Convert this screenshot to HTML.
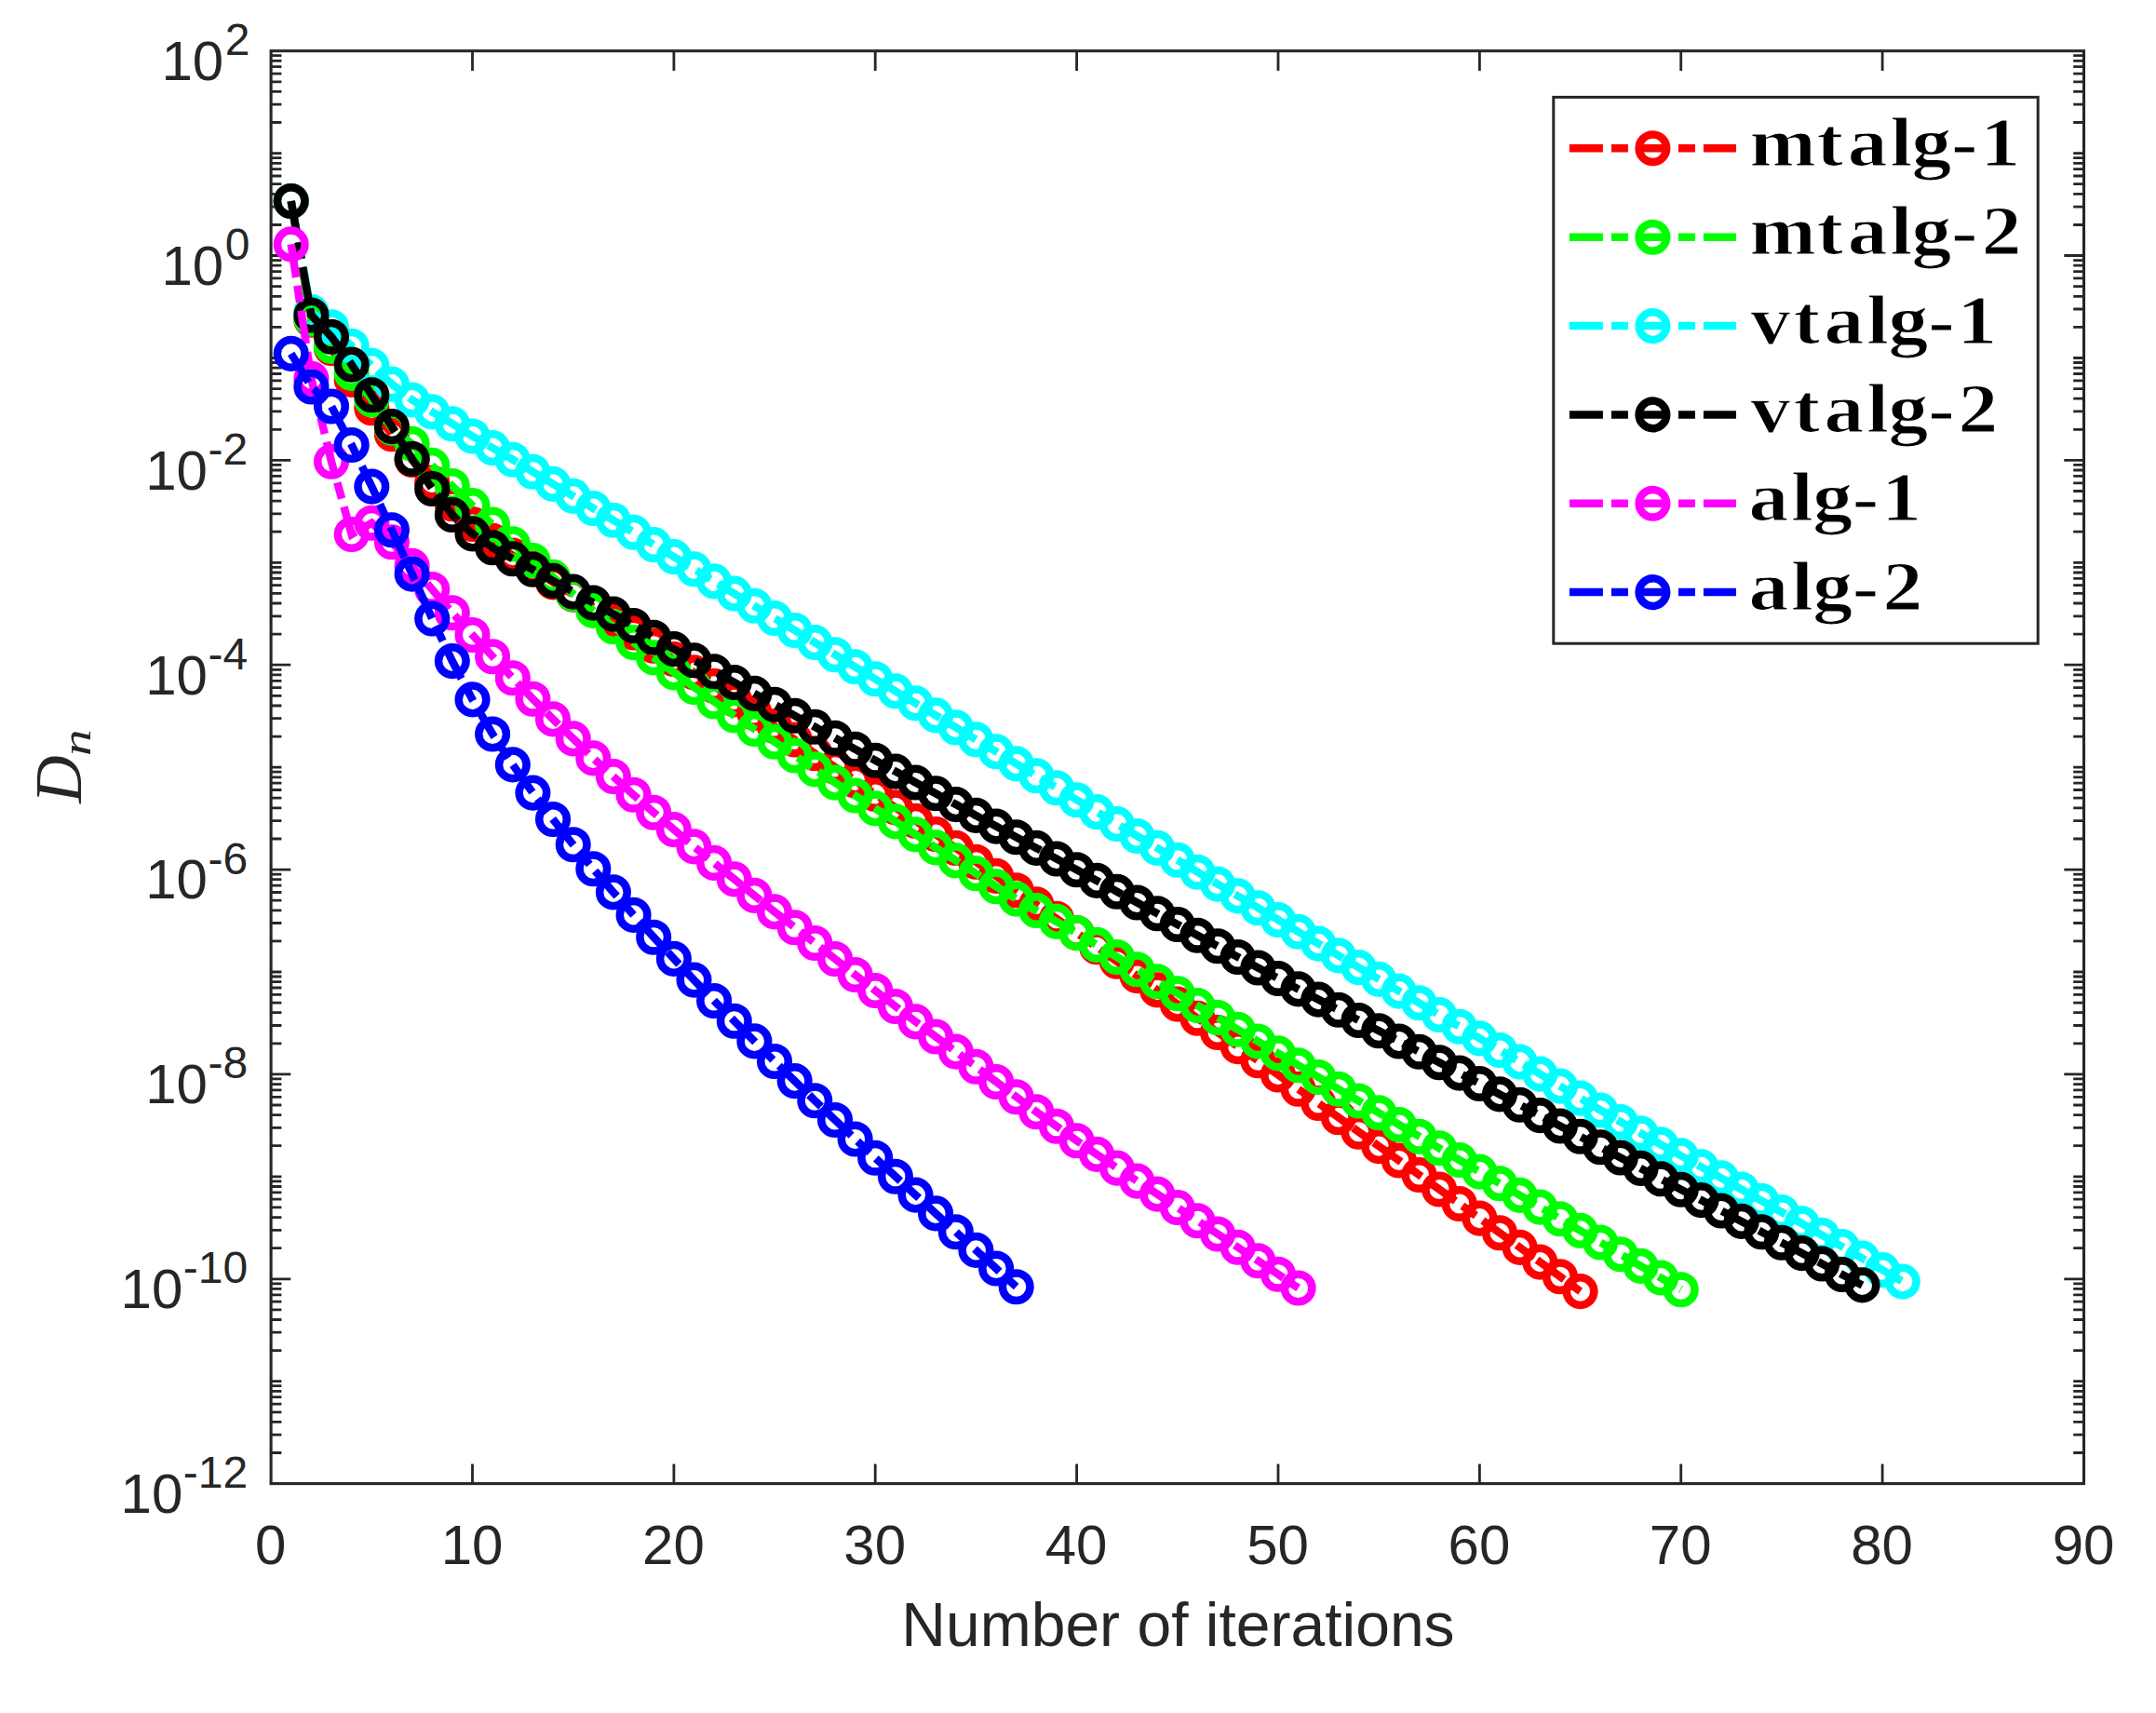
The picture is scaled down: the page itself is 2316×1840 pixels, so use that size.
<!DOCTYPE html>
<html lang="en"><head><meta charset="utf-8"><title>Convergence plot</title>
<style>html,body{margin:0;padding:0;background:#fff;}svg{display:block;}</style></head>
<body>
<svg width="2316" height="1840" viewBox="0 0 2316 1840">
<rect x="0" y="0" width="2316" height="1840" fill="#ffffff"/>
<path d="M507.5 1593.6 V1572.4 M507.5 54.7 V75.9 M723.9 1593.6 V1572.4 M723.9 54.7 V75.9 M940.2 1593.6 V1572.4 M940.2 54.7 V75.9 M1156.6 1593.6 V1572.4 M1156.6 54.7 V75.9 M1373 1593.6 V1572.4 M1373 54.7 V75.9 M1589.4 1593.6 V1572.4 M1589.4 54.7 V75.9 M1805.7 1593.6 V1572.4 M1805.7 54.7 V75.9 M2022.1 1593.6 V1572.4 M2022.1 54.7 V75.9 M291.1 1560.5 H302.4 M2238.5 1560.5 H2227.2 M291.1 1541.2 H302.4 M2238.5 1541.2 H2227.2 M291.1 1527.4 H302.4 M2238.5 1527.4 H2227.2 M291.1 1516.8 H302.4 M2238.5 1516.8 H2227.2 M291.1 1508.1 H302.4 M2238.5 1508.1 H2227.2 M291.1 1500.7 H302.4 M2238.5 1500.7 H2227.2 M291.1 1494.3 H302.4 M2238.5 1494.3 H2227.2 M291.1 1488.7 H302.4 M2238.5 1488.7 H2227.2 M291.1 1483.7 H302.4 M2238.5 1483.7 H2227.2 M291.1 1450.6 H302.4 M2238.5 1450.6 H2227.2 M291.1 1431.2 H302.4 M2238.5 1431.2 H2227.2 M291.1 1417.5 H302.4 M2238.5 1417.5 H2227.2 M291.1 1406.8 H302.4 M2238.5 1406.8 H2227.2 M291.1 1398.1 H302.4 M2238.5 1398.1 H2227.2 M291.1 1390.8 H302.4 M2238.5 1390.8 H2227.2 M291.1 1384.4 H302.4 M2238.5 1384.4 H2227.2 M291.1 1378.8 H302.4 M2238.5 1378.8 H2227.2 M291.1 1373.8 H312.3 M2238.5 1373.8 H2217.3 M291.1 1340.7 H302.4 M2238.5 1340.7 H2227.2 M291.1 1321.3 H302.4 M2238.5 1321.3 H2227.2 M291.1 1307.6 H302.4 M2238.5 1307.6 H2227.2 M291.1 1296.9 H302.4 M2238.5 1296.9 H2227.2 M291.1 1288.2 H302.4 M2238.5 1288.2 H2227.2 M291.1 1280.9 H302.4 M2238.5 1280.9 H2227.2 M291.1 1274.5 H302.4 M2238.5 1274.5 H2227.2 M291.1 1268.9 H302.4 M2238.5 1268.9 H2227.2 M291.1 1263.8 H302.4 M2238.5 1263.8 H2227.2 M291.1 1230.7 H302.4 M2238.5 1230.7 H2227.2 M291.1 1211.4 H302.4 M2238.5 1211.4 H2227.2 M291.1 1197.7 H302.4 M2238.5 1197.7 H2227.2 M291.1 1187 H302.4 M2238.5 1187 H2227.2 M291.1 1178.3 H302.4 M2238.5 1178.3 H2227.2 M291.1 1170.9 H302.4 M2238.5 1170.9 H2227.2 M291.1 1164.6 H302.4 M2238.5 1164.6 H2227.2 M291.1 1158.9 H302.4 M2238.5 1158.9 H2227.2 M291.1 1153.9 H312.3 M2238.5 1153.9 H2217.3 M291.1 1120.8 H302.4 M2238.5 1120.8 H2227.2 M291.1 1101.5 H302.4 M2238.5 1101.5 H2227.2 M291.1 1087.7 H302.4 M2238.5 1087.7 H2227.2 M291.1 1077.1 H302.4 M2238.5 1077.1 H2227.2 M291.1 1068.4 H302.4 M2238.5 1068.4 H2227.2 M291.1 1061 H302.4 M2238.5 1061 H2227.2 M291.1 1054.6 H302.4 M2238.5 1054.6 H2227.2 M291.1 1049 H302.4 M2238.5 1049 H2227.2 M291.1 1044 H302.4 M2238.5 1044 H2227.2 M291.1 1010.9 H302.4 M2238.5 1010.9 H2227.2 M291.1 991.5 H302.4 M2238.5 991.5 H2227.2 M291.1 977.8 H302.4 M2238.5 977.8 H2227.2 M291.1 967.2 H302.4 M2238.5 967.2 H2227.2 M291.1 958.5 H302.4 M2238.5 958.5 H2227.2 M291.1 951.1 H302.4 M2238.5 951.1 H2227.2 M291.1 944.7 H302.4 M2238.5 944.7 H2227.2 M291.1 939.1 H302.4 M2238.5 939.1 H2227.2 M291.1 934.1 H312.3 M2238.5 934.1 H2217.3 M291.1 901 H302.4 M2238.5 901 H2227.2 M291.1 881.6 H302.4 M2238.5 881.6 H2227.2 M291.1 867.9 H302.4 M2238.5 867.9 H2227.2 M291.1 857.2 H302.4 M2238.5 857.2 H2227.2 M291.1 848.5 H302.4 M2238.5 848.5 H2227.2 M291.1 841.2 H302.4 M2238.5 841.2 H2227.2 M291.1 834.8 H302.4 M2238.5 834.8 H2227.2 M291.1 829.2 H302.4 M2238.5 829.2 H2227.2 M291.1 824.1 H302.4 M2238.5 824.1 H2227.2 M291.1 791.1 H302.4 M2238.5 791.1 H2227.2 M291.1 771.7 H302.4 M2238.5 771.7 H2227.2 M291.1 758 H302.4 M2238.5 758 H2227.2 M291.1 747.3 H302.4 M2238.5 747.3 H2227.2 M291.1 738.6 H302.4 M2238.5 738.6 H2227.2 M291.1 731.3 H302.4 M2238.5 731.3 H2227.2 M291.1 724.9 H302.4 M2238.5 724.9 H2227.2 M291.1 719.3 H302.4 M2238.5 719.3 H2227.2 M291.1 714.2 H312.3 M2238.5 714.2 H2217.3 M291.1 681.1 H302.4 M2238.5 681.1 H2227.2 M291.1 661.8 H302.4 M2238.5 661.8 H2227.2 M291.1 648 H302.4 M2238.5 648 H2227.2 M291.1 637.4 H302.4 M2238.5 637.4 H2227.2 M291.1 628.7 H302.4 M2238.5 628.7 H2227.2 M291.1 621.3 H302.4 M2238.5 621.3 H2227.2 M291.1 615 H302.4 M2238.5 615 H2227.2 M291.1 609.3 H302.4 M2238.5 609.3 H2227.2 M291.1 604.3 H302.4 M2238.5 604.3 H2227.2 M291.1 571.2 H302.4 M2238.5 571.2 H2227.2 M291.1 551.9 H302.4 M2238.5 551.9 H2227.2 M291.1 538.1 H302.4 M2238.5 538.1 H2227.2 M291.1 527.5 H302.4 M2238.5 527.5 H2227.2 M291.1 518.8 H302.4 M2238.5 518.8 H2227.2 M291.1 511.4 H302.4 M2238.5 511.4 H2227.2 M291.1 505 H302.4 M2238.5 505 H2227.2 M291.1 499.4 H302.4 M2238.5 499.4 H2227.2 M291.1 494.4 H312.3 M2238.5 494.4 H2217.3 M291.1 461.3 H302.4 M2238.5 461.3 H2227.2 M291.1 441.9 H302.4 M2238.5 441.9 H2227.2 M291.1 428.2 H302.4 M2238.5 428.2 H2227.2 M291.1 417.6 H302.4 M2238.5 417.6 H2227.2 M291.1 408.9 H302.4 M2238.5 408.9 H2227.2 M291.1 401.5 H302.4 M2238.5 401.5 H2227.2 M291.1 395.1 H302.4 M2238.5 395.1 H2227.2 M291.1 389.5 H302.4 M2238.5 389.5 H2227.2 M291.1 384.5 H302.4 M2238.5 384.5 H2227.2 M291.1 351.4 H302.4 M2238.5 351.4 H2227.2 M291.1 332 H302.4 M2238.5 332 H2227.2 M291.1 318.3 H302.4 M2238.5 318.3 H2227.2 M291.1 307.6 H302.4 M2238.5 307.6 H2227.2 M291.1 298.9 H302.4 M2238.5 298.9 H2227.2 M291.1 291.6 H302.4 M2238.5 291.6 H2227.2 M291.1 285.2 H302.4 M2238.5 285.2 H2227.2 M291.1 279.6 H302.4 M2238.5 279.6 H2227.2 M291.1 274.5 H312.3 M2238.5 274.5 H2217.3 M291.1 241.5 H302.4 M2238.5 241.5 H2227.2 M291.1 222.1 H302.4 M2238.5 222.1 H2227.2 M291.1 208.4 H302.4 M2238.5 208.4 H2227.2 M291.1 197.7 H302.4 M2238.5 197.7 H2227.2 M291.1 189 H302.4 M2238.5 189 H2227.2 M291.1 181.6 H302.4 M2238.5 181.6 H2227.2 M291.1 175.3 H302.4 M2238.5 175.3 H2227.2 M291.1 169.7 H302.4 M2238.5 169.7 H2227.2 M291.1 164.6 H302.4 M2238.5 164.6 H2227.2 M291.1 131.5 H302.4 M2238.5 131.5 H2227.2 M291.1 112.2 H302.4 M2238.5 112.2 H2227.2 M291.1 98.4 H302.4 M2238.5 98.4 H2227.2 M291.1 87.8 H302.4 M2238.5 87.8 H2227.2 M291.1 79.1 H302.4 M2238.5 79.1 H2227.2 M291.1 71.7 H302.4 M2238.5 71.7 H2227.2 M291.1 65.4 H302.4 M2238.5 65.4 H2227.2 M291.1 59.7 H302.4 M2238.5 59.7 H2227.2" stroke="#262626" stroke-width="2.8" fill="none"/>
<rect x="291.1" y="54.7" width="1947.4" height="1538.9" fill="none" stroke="#262626" stroke-width="3.1"/>
<g font-family="'Liberation Sans', Arial, Helvetica, sans-serif" fill="#262626">
<text x="290.6" y="1679.9" font-size="60" text-anchor="middle">0</text>
<text x="507" y="1679.9" font-size="60" text-anchor="middle">10</text>
<text x="723.4" y="1679.9" font-size="60" text-anchor="middle">20</text>
<text x="939.7" y="1679.9" font-size="60" text-anchor="middle">30</text>
<text x="1156.1" y="1679.9" font-size="60" text-anchor="middle">40</text>
<text x="1372.5" y="1679.9" font-size="60" text-anchor="middle">50</text>
<text x="1588.9" y="1679.9" font-size="60" text-anchor="middle">60</text>
<text x="1805.2" y="1679.9" font-size="60" text-anchor="middle">70</text>
<text x="2021.6" y="1679.9" font-size="60" text-anchor="middle">80</text>
<text x="2238" y="1679.9" font-size="60" text-anchor="middle">90</text>
<text x="266.2" y="1624.9" font-size="60" text-anchor="end">10<tspan dy="-26.9" dx="0.5" font-size="48">-12</tspan></text>
<text x="266.2" y="1405.1" font-size="60" text-anchor="end">10<tspan dy="-26.9" dx="0.5" font-size="48">-10</tspan></text>
<text x="266.2" y="1185.2" font-size="60" text-anchor="end">10<tspan dy="-26.9" dx="0.5" font-size="48">-8</tspan></text>
<text x="266.2" y="965.4" font-size="60" text-anchor="end">10<tspan dy="-26.9" dx="0.5" font-size="48">-6</tspan></text>
<text x="266.2" y="745.5" font-size="60" text-anchor="end">10<tspan dy="-26.9" dx="0.5" font-size="48">-4</tspan></text>
<text x="266.2" y="525.7" font-size="60" text-anchor="end">10<tspan dy="-26.9" dx="0.5" font-size="48">-2</tspan></text>
<text x="268.4" y="305.8" font-size="60" text-anchor="end">10<tspan dy="-26.9" dx="1.5" font-size="48">0</tspan></text>
<text x="268.4" y="86" font-size="60" text-anchor="end">10<tspan dy="-26.9" dx="1.5" font-size="48">2</tspan></text>
<text x="1265.5" y="1767.5" font-size="66" text-anchor="middle">Number of iterations</text>
</g>
<g transform="translate(86.9 862.7) rotate(-90)" font-family="'Liberation Serif', 'Times New Roman', serif" font-style="italic" fill="#262626"><text x="0" y="0" font-size="71">D</text><text transform="translate(50.6 10.4) scale(1.3 1)" x="0" y="0" font-size="44">n</text></g>
<g stroke="#ff0000" stroke-width="8.5" fill="none">
<polyline points="312.7,216 334.4,343.7 356,374.1 377.7,407.9 399.3,438.3 420.9,466.3 442.6,494 464.2,518.5 485.8,541.3 507.5,563 529.1,580.9 550.8,596.6 572.4,610.8 594,625.4 615.7,638.6 637.3,651.8 658.9,664.9 680.6,679.5 702.2,693.8 723.9,708 745.5,722.4 767.1,736.9 788.8,751.4 810.4,765.7 832,780 853.7,794.5 875.3,809.2 897,823.9 918.6,838.5 940.2,853 961.9,867.4 983.5,881.7 1005.1,896.1 1026.8,910.9 1048.4,925.8 1070.1,940.9 1091.7,956.2 1113.3,971.4 1135,986.7 1156.6,1002 1178.2,1017.3 1199.9,1032.7 1221.5,1048.1 1243.2,1063.4 1264.8,1078.6 1286.4,1093.8 1308.1,1109 1329.7,1124.1 1351.4,1139.3 1373,1154.5 1394.6,1169.8 1416.3,1185 1437.9,1200.3 1459.5,1215.7 1481.2,1231.1 1502.8,1246.5 1524.5,1262 1546.1,1277.5 1567.7,1293 1589.4,1308.6 1611,1324.2 1632.6,1339.9 1654.3,1355.6 1675.9,1371.3 1697.6,1387.1" stroke-dasharray="36 9 18 9"/>
<circle cx="312.7" cy="216" r="14.8"/>
<circle cx="334.4" cy="343.7" r="14.8"/>
<circle cx="356" cy="374.1" r="14.8"/>
<circle cx="377.7" cy="407.9" r="14.8"/>
<circle cx="399.3" cy="438.3" r="14.8"/>
<circle cx="420.9" cy="466.3" r="14.8"/>
<circle cx="442.6" cy="494" r="14.8"/>
<circle cx="464.2" cy="518.5" r="14.8"/>
<circle cx="485.8" cy="541.3" r="14.8"/>
<circle cx="507.5" cy="563" r="14.8"/>
<circle cx="529.1" cy="580.9" r="14.8"/>
<circle cx="550.8" cy="596.6" r="14.8"/>
<circle cx="572.4" cy="610.8" r="14.8"/>
<circle cx="594" cy="625.4" r="14.8"/>
<circle cx="615.7" cy="638.6" r="14.8"/>
<circle cx="637.3" cy="651.8" r="14.8"/>
<circle cx="658.9" cy="664.9" r="14.8"/>
<circle cx="680.6" cy="679.5" r="14.8"/>
<circle cx="702.2" cy="693.8" r="14.8"/>
<circle cx="723.9" cy="708" r="14.8"/>
<circle cx="745.5" cy="722.4" r="14.8"/>
<circle cx="767.1" cy="736.9" r="14.8"/>
<circle cx="788.8" cy="751.4" r="14.8"/>
<circle cx="810.4" cy="765.7" r="14.8"/>
<circle cx="832" cy="780" r="14.8"/>
<circle cx="853.7" cy="794.5" r="14.8"/>
<circle cx="875.3" cy="809.2" r="14.8"/>
<circle cx="897" cy="823.9" r="14.8"/>
<circle cx="918.6" cy="838.5" r="14.8"/>
<circle cx="940.2" cy="853" r="14.8"/>
<circle cx="961.9" cy="867.4" r="14.8"/>
<circle cx="983.5" cy="881.7" r="14.8"/>
<circle cx="1005.1" cy="896.1" r="14.8"/>
<circle cx="1026.8" cy="910.9" r="14.8"/>
<circle cx="1048.4" cy="925.8" r="14.8"/>
<circle cx="1070.1" cy="940.9" r="14.8"/>
<circle cx="1091.7" cy="956.2" r="14.8"/>
<circle cx="1113.3" cy="971.4" r="14.8"/>
<circle cx="1135" cy="986.7" r="14.8"/>
<circle cx="1156.6" cy="1002" r="14.8"/>
<circle cx="1178.2" cy="1017.3" r="14.8"/>
<circle cx="1199.9" cy="1032.7" r="14.8"/>
<circle cx="1221.5" cy="1048.1" r="14.8"/>
<circle cx="1243.2" cy="1063.4" r="14.8"/>
<circle cx="1264.8" cy="1078.6" r="14.8"/>
<circle cx="1286.4" cy="1093.8" r="14.8"/>
<circle cx="1308.1" cy="1109" r="14.8"/>
<circle cx="1329.7" cy="1124.1" r="14.8"/>
<circle cx="1351.4" cy="1139.3" r="14.8"/>
<circle cx="1373" cy="1154.5" r="14.8"/>
<circle cx="1394.6" cy="1169.8" r="14.8"/>
<circle cx="1416.3" cy="1185" r="14.8"/>
<circle cx="1437.9" cy="1200.3" r="14.8"/>
<circle cx="1459.5" cy="1215.7" r="14.8"/>
<circle cx="1481.2" cy="1231.1" r="14.8"/>
<circle cx="1502.8" cy="1246.5" r="14.8"/>
<circle cx="1524.5" cy="1262" r="14.8"/>
<circle cx="1546.1" cy="1277.5" r="14.8"/>
<circle cx="1567.7" cy="1293" r="14.8"/>
<circle cx="1589.4" cy="1308.6" r="14.8"/>
<circle cx="1611" cy="1324.2" r="14.8"/>
<circle cx="1632.6" cy="1339.9" r="14.8"/>
<circle cx="1654.3" cy="1355.6" r="14.8"/>
<circle cx="1675.9" cy="1371.3" r="14.8"/>
<circle cx="1697.6" cy="1387.1" r="14.8"/>
</g>
<g stroke="#00ff00" stroke-width="8.5" fill="none">
<polyline points="312.7,216 334.4,342.5 356,371.7 377.7,400.9 399.3,429.2 420.9,459.6 442.6,476.8 464.2,499.9 485.8,522 507.5,543.1 529.1,563.5 550.8,584.3 572.4,602 594,619.9 615.7,638 637.3,655.9 658.9,673.3 680.6,690.1 702.2,706.4 723.9,722.4 745.5,738.1 767.1,753.5 788.8,768.5 810.4,783 832,796.7 853.7,811.5 875.3,826.4 897,840.6 918.6,854.5 940.2,868.4 961.9,882.4 983.5,896.4 1005.1,910.4 1026.8,924.4 1048.4,938.3 1070.1,952.2 1091.7,965.6 1113.3,978 1135,989.9 1156.6,1002.1 1178.2,1014.9 1199.9,1028 1221.5,1041.2 1243.2,1054.3 1264.8,1067.2 1286.4,1080.1 1308.1,1093 1329.7,1105.8 1351.4,1118.6 1373,1131.4 1394.6,1144.2 1416.3,1157 1437.9,1169.8 1459.5,1182.5 1481.2,1195.3 1502.8,1208 1524.5,1220.7 1546.1,1233.3 1567.7,1246 1589.4,1258.6 1611,1271.3 1632.6,1283.9 1654.3,1296.6 1675.9,1309.2 1697.6,1321.9 1719.2,1334.5 1740.8,1347.2 1762.5,1359.9 1784.1,1372.5 1805.7,1385.2" stroke-dasharray="36 9 18 9"/>
<circle cx="312.7" cy="216" r="14.8"/>
<circle cx="334.4" cy="342.5" r="14.8"/>
<circle cx="356" cy="371.7" r="14.8"/>
<circle cx="377.7" cy="400.9" r="14.8"/>
<circle cx="399.3" cy="429.2" r="14.8"/>
<circle cx="420.9" cy="459.6" r="14.8"/>
<circle cx="442.6" cy="476.8" r="14.8"/>
<circle cx="464.2" cy="499.9" r="14.8"/>
<circle cx="485.8" cy="522" r="14.8"/>
<circle cx="507.5" cy="543.1" r="14.8"/>
<circle cx="529.1" cy="563.5" r="14.8"/>
<circle cx="550.8" cy="584.3" r="14.8"/>
<circle cx="572.4" cy="602" r="14.8"/>
<circle cx="594" cy="619.9" r="14.8"/>
<circle cx="615.7" cy="638" r="14.8"/>
<circle cx="637.3" cy="655.9" r="14.8"/>
<circle cx="658.9" cy="673.3" r="14.8"/>
<circle cx="680.6" cy="690.1" r="14.8"/>
<circle cx="702.2" cy="706.4" r="14.8"/>
<circle cx="723.9" cy="722.4" r="14.8"/>
<circle cx="745.5" cy="738.1" r="14.8"/>
<circle cx="767.1" cy="753.5" r="14.8"/>
<circle cx="788.8" cy="768.5" r="14.8"/>
<circle cx="810.4" cy="783" r="14.8"/>
<circle cx="832" cy="796.7" r="14.8"/>
<circle cx="853.7" cy="811.5" r="14.8"/>
<circle cx="875.3" cy="826.4" r="14.8"/>
<circle cx="897" cy="840.6" r="14.8"/>
<circle cx="918.6" cy="854.5" r="14.8"/>
<circle cx="940.2" cy="868.4" r="14.8"/>
<circle cx="961.9" cy="882.4" r="14.8"/>
<circle cx="983.5" cy="896.4" r="14.8"/>
<circle cx="1005.1" cy="910.4" r="14.8"/>
<circle cx="1026.8" cy="924.4" r="14.8"/>
<circle cx="1048.4" cy="938.3" r="14.8"/>
<circle cx="1070.1" cy="952.2" r="14.8"/>
<circle cx="1091.7" cy="965.6" r="14.8"/>
<circle cx="1113.3" cy="978" r="14.8"/>
<circle cx="1135" cy="989.9" r="14.8"/>
<circle cx="1156.6" cy="1002.1" r="14.8"/>
<circle cx="1178.2" cy="1014.9" r="14.8"/>
<circle cx="1199.9" cy="1028" r="14.8"/>
<circle cx="1221.5" cy="1041.2" r="14.8"/>
<circle cx="1243.2" cy="1054.3" r="14.8"/>
<circle cx="1264.8" cy="1067.2" r="14.8"/>
<circle cx="1286.4" cy="1080.1" r="14.8"/>
<circle cx="1308.1" cy="1093" r="14.8"/>
<circle cx="1329.7" cy="1105.8" r="14.8"/>
<circle cx="1351.4" cy="1118.6" r="14.8"/>
<circle cx="1373" cy="1131.4" r="14.8"/>
<circle cx="1394.6" cy="1144.2" r="14.8"/>
<circle cx="1416.3" cy="1157" r="14.8"/>
<circle cx="1437.9" cy="1169.8" r="14.8"/>
<circle cx="1459.5" cy="1182.5" r="14.8"/>
<circle cx="1481.2" cy="1195.3" r="14.8"/>
<circle cx="1502.8" cy="1208" r="14.8"/>
<circle cx="1524.5" cy="1220.7" r="14.8"/>
<circle cx="1546.1" cy="1233.3" r="14.8"/>
<circle cx="1567.7" cy="1246" r="14.8"/>
<circle cx="1589.4" cy="1258.6" r="14.8"/>
<circle cx="1611" cy="1271.3" r="14.8"/>
<circle cx="1632.6" cy="1283.9" r="14.8"/>
<circle cx="1654.3" cy="1296.6" r="14.8"/>
<circle cx="1675.9" cy="1309.2" r="14.8"/>
<circle cx="1697.6" cy="1321.9" r="14.8"/>
<circle cx="1719.2" cy="1334.5" r="14.8"/>
<circle cx="1740.8" cy="1347.2" r="14.8"/>
<circle cx="1762.5" cy="1359.9" r="14.8"/>
<circle cx="1784.1" cy="1372.5" r="14.8"/>
<circle cx="1805.7" cy="1385.2" r="14.8"/>
</g>
<g stroke="#00ffff" stroke-width="8.5" fill="none">
<polyline points="312.7,216 334.4,335 356,351.3 377.7,371.7 399.3,392.8 420.9,412.6 442.6,429.5 464.2,442.4 485.8,455.2 507.5,468.5 529.1,481.1 550.8,493.7 572.4,506.8 594,519.9 615.7,532.9 637.3,546 658.9,558.8 680.6,571.8 702.2,585 723.9,598.1 745.5,611.2 767.1,624.4 788.8,637.6 810.4,650.8 832,664 853.7,677 875.3,690.1 897,703.2 918.6,716.3 940.2,729.3 961.9,742.4 983.5,755.4 1005.1,768.4 1026.8,781.4 1048.4,794.4 1070.1,807.4 1091.7,820.4 1113.3,833.3 1135,846.2 1156.6,859.2 1178.2,872.1 1199.9,885.1 1221.5,898 1243.2,910.9 1264.8,923.7 1286.4,936.7 1308.1,949.6 1329.7,962.4 1351.4,975.2 1373,988 1394.6,1000.8 1416.3,1013.6 1437.9,1026.4 1459.5,1039.1 1481.2,1051.9 1502.8,1064.6 1524.5,1077.3 1546.1,1090 1567.7,1102.7 1589.4,1115.4 1611,1128 1632.6,1140.6 1654.3,1153.6 1675.9,1166.6 1697.6,1179.6 1719.2,1192.5 1740.8,1205 1762.5,1217.3 1784.1,1229.4 1805.7,1241.4 1827.4,1253.4 1849,1265.4 1870.7,1277.5 1892.3,1289.7 1913.9,1302 1935.6,1314.3 1957.2,1326.7 1978.8,1339.1 2000.5,1351.6 2022.1,1364.1 2043.8,1376.6" stroke-dasharray="36 9 18 9"/>
<circle cx="312.7" cy="216" r="14.8"/>
<circle cx="334.4" cy="335" r="14.8"/>
<circle cx="356" cy="351.3" r="14.8"/>
<circle cx="377.7" cy="371.7" r="14.8"/>
<circle cx="399.3" cy="392.8" r="14.8"/>
<circle cx="420.9" cy="412.6" r="14.8"/>
<circle cx="442.6" cy="429.5" r="14.8"/>
<circle cx="464.2" cy="442.4" r="14.8"/>
<circle cx="485.8" cy="455.2" r="14.8"/>
<circle cx="507.5" cy="468.5" r="14.8"/>
<circle cx="529.1" cy="481.1" r="14.8"/>
<circle cx="550.8" cy="493.7" r="14.8"/>
<circle cx="572.4" cy="506.8" r="14.8"/>
<circle cx="594" cy="519.9" r="14.8"/>
<circle cx="615.7" cy="532.9" r="14.8"/>
<circle cx="637.3" cy="546" r="14.8"/>
<circle cx="658.9" cy="558.8" r="14.8"/>
<circle cx="680.6" cy="571.8" r="14.8"/>
<circle cx="702.2" cy="585" r="14.8"/>
<circle cx="723.9" cy="598.1" r="14.8"/>
<circle cx="745.5" cy="611.2" r="14.8"/>
<circle cx="767.1" cy="624.4" r="14.8"/>
<circle cx="788.8" cy="637.6" r="14.8"/>
<circle cx="810.4" cy="650.8" r="14.8"/>
<circle cx="832" cy="664" r="14.8"/>
<circle cx="853.7" cy="677" r="14.8"/>
<circle cx="875.3" cy="690.1" r="14.8"/>
<circle cx="897" cy="703.2" r="14.8"/>
<circle cx="918.6" cy="716.3" r="14.8"/>
<circle cx="940.2" cy="729.3" r="14.8"/>
<circle cx="961.9" cy="742.4" r="14.8"/>
<circle cx="983.5" cy="755.4" r="14.8"/>
<circle cx="1005.1" cy="768.4" r="14.8"/>
<circle cx="1026.8" cy="781.4" r="14.8"/>
<circle cx="1048.4" cy="794.4" r="14.8"/>
<circle cx="1070.1" cy="807.4" r="14.8"/>
<circle cx="1091.7" cy="820.4" r="14.8"/>
<circle cx="1113.3" cy="833.3" r="14.8"/>
<circle cx="1135" cy="846.2" r="14.8"/>
<circle cx="1156.6" cy="859.2" r="14.8"/>
<circle cx="1178.2" cy="872.1" r="14.8"/>
<circle cx="1199.9" cy="885.1" r="14.8"/>
<circle cx="1221.5" cy="898" r="14.8"/>
<circle cx="1243.2" cy="910.9" r="14.8"/>
<circle cx="1264.8" cy="923.7" r="14.8"/>
<circle cx="1286.4" cy="936.7" r="14.8"/>
<circle cx="1308.1" cy="949.6" r="14.8"/>
<circle cx="1329.7" cy="962.4" r="14.8"/>
<circle cx="1351.4" cy="975.2" r="14.8"/>
<circle cx="1373" cy="988" r="14.8"/>
<circle cx="1394.6" cy="1000.8" r="14.8"/>
<circle cx="1416.3" cy="1013.6" r="14.8"/>
<circle cx="1437.9" cy="1026.4" r="14.8"/>
<circle cx="1459.5" cy="1039.1" r="14.8"/>
<circle cx="1481.2" cy="1051.9" r="14.8"/>
<circle cx="1502.8" cy="1064.6" r="14.8"/>
<circle cx="1524.5" cy="1077.3" r="14.8"/>
<circle cx="1546.1" cy="1090" r="14.8"/>
<circle cx="1567.7" cy="1102.7" r="14.8"/>
<circle cx="1589.4" cy="1115.4" r="14.8"/>
<circle cx="1611" cy="1128" r="14.8"/>
<circle cx="1632.6" cy="1140.6" r="14.8"/>
<circle cx="1654.3" cy="1153.6" r="14.8"/>
<circle cx="1675.9" cy="1166.6" r="14.8"/>
<circle cx="1697.6" cy="1179.6" r="14.8"/>
<circle cx="1719.2" cy="1192.5" r="14.8"/>
<circle cx="1740.8" cy="1205" r="14.8"/>
<circle cx="1762.5" cy="1217.3" r="14.8"/>
<circle cx="1784.1" cy="1229.4" r="14.8"/>
<circle cx="1805.7" cy="1241.4" r="14.8"/>
<circle cx="1827.4" cy="1253.4" r="14.8"/>
<circle cx="1849" cy="1265.4" r="14.8"/>
<circle cx="1870.7" cy="1277.5" r="14.8"/>
<circle cx="1892.3" cy="1289.7" r="14.8"/>
<circle cx="1913.9" cy="1302" r="14.8"/>
<circle cx="1935.6" cy="1314.3" r="14.8"/>
<circle cx="1957.2" cy="1326.7" r="14.8"/>
<circle cx="1978.8" cy="1339.1" r="14.8"/>
<circle cx="2000.5" cy="1351.6" r="14.8"/>
<circle cx="2022.1" cy="1364.1" r="14.8"/>
<circle cx="2043.8" cy="1376.6" r="14.8"/>
</g>
<g stroke="#000000" stroke-width="8.5" fill="none">
<polyline points="312.7,216 334.4,338.5 356,361.8 377.7,391.6 399.3,424.3 420.9,458.1 442.6,492.8 464.2,525 485.8,553 507.5,573.4 529.1,588.3 550.8,600.2 572.4,611.8 594,623.9 615.7,635.6 637.3,647.5 658.9,659.6 680.6,672 702.2,684.7 723.9,697.1 745.5,709.2 767.1,721.2 788.8,733 810.4,744.9 832,756.8 853.7,768.8 875.3,780.8 897,792.8 918.6,804.8 940.2,816.7 961.9,828.6 983.5,840.5 1005.1,852.3 1026.8,864.1 1048.4,875.9 1070.1,887.6 1091.7,899.3 1113.3,910.9 1135,922.5 1156.6,934.2 1178.2,945.9 1199.9,957.7 1221.5,969.5 1243.2,981.3 1264.8,993 1286.4,1004.7 1308.1,1016.3 1329.7,1028 1351.4,1039.5 1373,1051 1394.6,1062.4 1416.3,1073.6 1437.9,1084.8 1459.5,1096 1481.2,1107.2 1502.8,1118.5 1524.5,1129.8 1546.1,1141.2 1567.7,1152.6 1589.4,1164 1611,1175.4 1632.6,1186.7 1654.3,1198.1 1675.9,1209.5 1697.6,1220.8 1719.2,1232.2 1740.8,1243.5 1762.5,1254.9 1784.1,1266.3 1805.7,1277.7 1827.4,1289.1 1849,1300.5 1870.7,1311.9 1892.3,1323.3 1913.9,1334.7 1935.6,1346.1 1957.2,1357.5 1978.8,1369 2000.5,1380.4" stroke-dasharray="36 9 18 9"/>
<circle cx="312.7" cy="216" r="14.8"/>
<circle cx="334.4" cy="338.5" r="14.8"/>
<circle cx="356" cy="361.8" r="14.8"/>
<circle cx="377.7" cy="391.6" r="14.8"/>
<circle cx="399.3" cy="424.3" r="14.8"/>
<circle cx="420.9" cy="458.1" r="14.8"/>
<circle cx="442.6" cy="492.8" r="14.8"/>
<circle cx="464.2" cy="525" r="14.8"/>
<circle cx="485.8" cy="553" r="14.8"/>
<circle cx="507.5" cy="573.4" r="14.8"/>
<circle cx="529.1" cy="588.3" r="14.8"/>
<circle cx="550.8" cy="600.2" r="14.8"/>
<circle cx="572.4" cy="611.8" r="14.8"/>
<circle cx="594" cy="623.9" r="14.8"/>
<circle cx="615.7" cy="635.6" r="14.8"/>
<circle cx="637.3" cy="647.5" r="14.8"/>
<circle cx="658.9" cy="659.6" r="14.8"/>
<circle cx="680.6" cy="672" r="14.8"/>
<circle cx="702.2" cy="684.7" r="14.8"/>
<circle cx="723.9" cy="697.1" r="14.8"/>
<circle cx="745.5" cy="709.2" r="14.8"/>
<circle cx="767.1" cy="721.2" r="14.8"/>
<circle cx="788.8" cy="733" r="14.8"/>
<circle cx="810.4" cy="744.9" r="14.8"/>
<circle cx="832" cy="756.8" r="14.8"/>
<circle cx="853.7" cy="768.8" r="14.8"/>
<circle cx="875.3" cy="780.8" r="14.8"/>
<circle cx="897" cy="792.8" r="14.8"/>
<circle cx="918.6" cy="804.8" r="14.8"/>
<circle cx="940.2" cy="816.7" r="14.8"/>
<circle cx="961.9" cy="828.6" r="14.8"/>
<circle cx="983.5" cy="840.5" r="14.8"/>
<circle cx="1005.1" cy="852.3" r="14.8"/>
<circle cx="1026.8" cy="864.1" r="14.8"/>
<circle cx="1048.4" cy="875.9" r="14.8"/>
<circle cx="1070.1" cy="887.6" r="14.8"/>
<circle cx="1091.7" cy="899.3" r="14.8"/>
<circle cx="1113.3" cy="910.9" r="14.8"/>
<circle cx="1135" cy="922.5" r="14.8"/>
<circle cx="1156.6" cy="934.2" r="14.8"/>
<circle cx="1178.2" cy="945.9" r="14.8"/>
<circle cx="1199.9" cy="957.7" r="14.8"/>
<circle cx="1221.5" cy="969.5" r="14.8"/>
<circle cx="1243.2" cy="981.3" r="14.8"/>
<circle cx="1264.8" cy="993" r="14.8"/>
<circle cx="1286.4" cy="1004.7" r="14.8"/>
<circle cx="1308.1" cy="1016.3" r="14.8"/>
<circle cx="1329.7" cy="1028" r="14.8"/>
<circle cx="1351.4" cy="1039.5" r="14.8"/>
<circle cx="1373" cy="1051" r="14.8"/>
<circle cx="1394.6" cy="1062.4" r="14.8"/>
<circle cx="1416.3" cy="1073.6" r="14.8"/>
<circle cx="1437.9" cy="1084.8" r="14.8"/>
<circle cx="1459.5" cy="1096" r="14.8"/>
<circle cx="1481.2" cy="1107.2" r="14.8"/>
<circle cx="1502.8" cy="1118.5" r="14.8"/>
<circle cx="1524.5" cy="1129.8" r="14.8"/>
<circle cx="1546.1" cy="1141.2" r="14.8"/>
<circle cx="1567.7" cy="1152.6" r="14.8"/>
<circle cx="1589.4" cy="1164" r="14.8"/>
<circle cx="1611" cy="1175.4" r="14.8"/>
<circle cx="1632.6" cy="1186.7" r="14.8"/>
<circle cx="1654.3" cy="1198.1" r="14.8"/>
<circle cx="1675.9" cy="1209.5" r="14.8"/>
<circle cx="1697.6" cy="1220.8" r="14.8"/>
<circle cx="1719.2" cy="1232.2" r="14.8"/>
<circle cx="1740.8" cy="1243.5" r="14.8"/>
<circle cx="1762.5" cy="1254.9" r="14.8"/>
<circle cx="1784.1" cy="1266.3" r="14.8"/>
<circle cx="1805.7" cy="1277.7" r="14.8"/>
<circle cx="1827.4" cy="1289.1" r="14.8"/>
<circle cx="1849" cy="1300.5" r="14.8"/>
<circle cx="1870.7" cy="1311.9" r="14.8"/>
<circle cx="1892.3" cy="1323.3" r="14.8"/>
<circle cx="1913.9" cy="1334.7" r="14.8"/>
<circle cx="1935.6" cy="1346.1" r="14.8"/>
<circle cx="1957.2" cy="1357.5" r="14.8"/>
<circle cx="1978.8" cy="1369" r="14.8"/>
<circle cx="2000.5" cy="1380.4" r="14.8"/>
</g>
<g stroke="#ff00ff" stroke-width="8.5" fill="none">
<polyline points="312.7,262.4 334.4,406.8 356,495.8 377.7,574 399.3,561.7 420.9,582.2 442.6,607.9 464.2,633 485.8,658.2 507.5,682 529.1,705.2 550.8,728.3 572.4,750.7 594,772.4 615.7,793.4 637.3,814.4 658.9,834.1 680.6,853.8 702.2,872.7 723.9,891.1 745.5,909.4 767.1,926.9 788.8,944.4 810.4,961.9 832,979.4 853.7,996.2 875.3,1013 897,1030 918.6,1047 940.2,1064 961.9,1081 983.5,1097.4 1005.1,1113.5 1026.8,1129.6 1048.4,1145.7 1070.1,1162 1091.7,1178.2 1113.3,1194.3 1135,1209.7 1156.6,1225.2 1178.2,1239.9 1199.9,1254.6 1221.5,1268.6 1243.2,1282.6 1264.8,1297 1286.4,1311.3 1308.1,1325.5 1329.7,1339.8 1351.4,1354.2 1373,1368.8 1394.6,1383.5" stroke-dasharray="36 9 18 9"/>
<circle cx="312.7" cy="262.4" r="14.8"/>
<circle cx="334.4" cy="406.8" r="14.8"/>
<circle cx="356" cy="495.8" r="14.8"/>
<circle cx="377.7" cy="574" r="14.8"/>
<circle cx="399.3" cy="561.7" r="14.8"/>
<circle cx="420.9" cy="582.2" r="14.8"/>
<circle cx="442.6" cy="607.9" r="14.8"/>
<circle cx="464.2" cy="633" r="14.8"/>
<circle cx="485.8" cy="658.2" r="14.8"/>
<circle cx="507.5" cy="682" r="14.8"/>
<circle cx="529.1" cy="705.2" r="14.8"/>
<circle cx="550.8" cy="728.3" r="14.8"/>
<circle cx="572.4" cy="750.7" r="14.8"/>
<circle cx="594" cy="772.4" r="14.8"/>
<circle cx="615.7" cy="793.4" r="14.8"/>
<circle cx="637.3" cy="814.4" r="14.8"/>
<circle cx="658.9" cy="834.1" r="14.8"/>
<circle cx="680.6" cy="853.8" r="14.8"/>
<circle cx="702.2" cy="872.7" r="14.8"/>
<circle cx="723.9" cy="891.1" r="14.8"/>
<circle cx="745.5" cy="909.4" r="14.8"/>
<circle cx="767.1" cy="926.9" r="14.8"/>
<circle cx="788.8" cy="944.4" r="14.8"/>
<circle cx="810.4" cy="961.9" r="14.8"/>
<circle cx="832" cy="979.4" r="14.8"/>
<circle cx="853.7" cy="996.2" r="14.8"/>
<circle cx="875.3" cy="1013" r="14.8"/>
<circle cx="897" cy="1030" r="14.8"/>
<circle cx="918.6" cy="1047" r="14.8"/>
<circle cx="940.2" cy="1064" r="14.8"/>
<circle cx="961.9" cy="1081" r="14.8"/>
<circle cx="983.5" cy="1097.4" r="14.8"/>
<circle cx="1005.1" cy="1113.5" r="14.8"/>
<circle cx="1026.8" cy="1129.6" r="14.8"/>
<circle cx="1048.4" cy="1145.7" r="14.8"/>
<circle cx="1070.1" cy="1162" r="14.8"/>
<circle cx="1091.7" cy="1178.2" r="14.8"/>
<circle cx="1113.3" cy="1194.3" r="14.8"/>
<circle cx="1135" cy="1209.7" r="14.8"/>
<circle cx="1156.6" cy="1225.2" r="14.8"/>
<circle cx="1178.2" cy="1239.9" r="14.8"/>
<circle cx="1199.9" cy="1254.6" r="14.8"/>
<circle cx="1221.5" cy="1268.6" r="14.8"/>
<circle cx="1243.2" cy="1282.6" r="14.8"/>
<circle cx="1264.8" cy="1297" r="14.8"/>
<circle cx="1286.4" cy="1311.3" r="14.8"/>
<circle cx="1308.1" cy="1325.5" r="14.8"/>
<circle cx="1329.7" cy="1339.8" r="14.8"/>
<circle cx="1351.4" cy="1354.2" r="14.8"/>
<circle cx="1373" cy="1368.8" r="14.8"/>
<circle cx="1394.6" cy="1383.5" r="14.8"/>
</g>
<g stroke="#0000ff" stroke-width="8.5" fill="none">
<polyline points="312.7,379.9 334.4,415.5 356,436.5 377.7,478 399.3,522.6 420.9,569.3 442.6,616.6 464.2,664.5 485.8,710.1 507.5,751.4 529.1,788.5 550.8,821.4 572.4,851.6 594,880 615.7,907.3 637.3,933.2 658.9,958.4 680.6,982.9 702.2,1006.7 723.9,1029.9 745.5,1052.6 767.1,1075 788.8,1096.7 810.4,1118.4 832,1140 853.7,1161.1 875.3,1182.2 897,1203 918.6,1223.5 940.2,1243.7 961.9,1263.7 983.5,1283.6 1005.1,1303.4 1026.8,1323.2 1048.4,1342.9 1070.1,1362.5 1091.7,1382.2" stroke-dasharray="36 9 18 9"/>
<circle cx="312.7" cy="379.9" r="14.8"/>
<circle cx="334.4" cy="415.5" r="14.8"/>
<circle cx="356" cy="436.5" r="14.8"/>
<circle cx="377.7" cy="478" r="14.8"/>
<circle cx="399.3" cy="522.6" r="14.8"/>
<circle cx="420.9" cy="569.3" r="14.8"/>
<circle cx="442.6" cy="616.6" r="14.8"/>
<circle cx="464.2" cy="664.5" r="14.8"/>
<circle cx="485.8" cy="710.1" r="14.8"/>
<circle cx="507.5" cy="751.4" r="14.8"/>
<circle cx="529.1" cy="788.5" r="14.8"/>
<circle cx="550.8" cy="821.4" r="14.8"/>
<circle cx="572.4" cy="851.6" r="14.8"/>
<circle cx="594" cy="880" r="14.8"/>
<circle cx="615.7" cy="907.3" r="14.8"/>
<circle cx="637.3" cy="933.2" r="14.8"/>
<circle cx="658.9" cy="958.4" r="14.8"/>
<circle cx="680.6" cy="982.9" r="14.8"/>
<circle cx="702.2" cy="1006.7" r="14.8"/>
<circle cx="723.9" cy="1029.9" r="14.8"/>
<circle cx="745.5" cy="1052.6" r="14.8"/>
<circle cx="767.1" cy="1075" r="14.8"/>
<circle cx="788.8" cy="1096.7" r="14.8"/>
<circle cx="810.4" cy="1118.4" r="14.8"/>
<circle cx="832" cy="1140" r="14.8"/>
<circle cx="853.7" cy="1161.1" r="14.8"/>
<circle cx="875.3" cy="1182.2" r="14.8"/>
<circle cx="897" cy="1203" r="14.8"/>
<circle cx="918.6" cy="1223.5" r="14.8"/>
<circle cx="940.2" cy="1243.7" r="14.8"/>
<circle cx="961.9" cy="1263.7" r="14.8"/>
<circle cx="983.5" cy="1283.6" r="14.8"/>
<circle cx="1005.1" cy="1303.4" r="14.8"/>
<circle cx="1026.8" cy="1323.2" r="14.8"/>
<circle cx="1048.4" cy="1342.9" r="14.8"/>
<circle cx="1070.1" cy="1362.5" r="14.8"/>
<circle cx="1091.7" cy="1382.2" r="14.8"/>
</g>
<rect x="1668.8" y="104.4" width="520.4" height="586.8" fill="#ffffff" stroke="#262626" stroke-width="3"/>
<g stroke="#ff0000" stroke-width="8.5" fill="none">
<path d="M1685.9 159.3 H1864.9" stroke-dasharray="36 9 18 9"/>
<circle cx="1775.4" cy="159.3" r="14.8"/>
</g>
<text transform="translate(0 177.9) scale(1.14 1)" x="1648.60 1711.75 1741.05 1781.05 1801.40 1838.60 1866.32" y="0" font-family="'Liberation Serif', 'Times New Roman', serif" font-weight="bold" font-size="75" fill="#000000" stroke="#ffffff" stroke-width="1.2">mtalg-1</text>
<g stroke="#00ff00" stroke-width="8.5" fill="none">
<path d="M1685.9 254.8 H1864.9" stroke-dasharray="36 9 18 9"/>
<circle cx="1775.4" cy="254.8" r="14.8"/>
</g>
<text transform="translate(0 273.4) scale(1.14 1)" x="1648.60 1711.75 1741.05 1781.05 1801.40 1838.60 1867.37" y="0" font-family="'Liberation Serif', 'Times New Roman', serif" font-weight="bold" font-size="75" fill="#000000" stroke="#ffffff" stroke-width="1.2">mtalg-2</text>
<g stroke="#00ffff" stroke-width="8.5" fill="none">
<path d="M1685.9 350.1 H1864.9" stroke-dasharray="36 9 18 9"/>
<circle cx="1775.4" cy="350.1" r="14.8"/>
</g>
<text transform="translate(0 368.7) scale(1.14 1)" x="1649.65 1689.82 1718.95 1758.95 1779.39 1816.84 1844.21" y="0" font-family="'Liberation Serif', 'Times New Roman', serif" font-weight="bold" font-size="75" fill="#000000" stroke="#ffffff" stroke-width="1.2">vtalg-1</text>
<g stroke="#000000" stroke-width="8.5" fill="none">
<path d="M1685.9 445.4 H1864.9" stroke-dasharray="36 9 18 9"/>
<circle cx="1775.4" cy="445.4" r="14.8"/>
</g>
<text transform="translate(0 464) scale(1.14 1)" x="1649.65 1689.82 1718.95 1758.95 1779.39 1816.84 1845.26" y="0" font-family="'Liberation Serif', 'Times New Roman', serif" font-weight="bold" font-size="75" fill="#000000" stroke="#ffffff" stroke-width="1.2">vtalg-2</text>
<g stroke="#ff00ff" stroke-width="8.5" fill="none">
<path d="M1685.9 540.8 H1864.9" stroke-dasharray="36 9 18 9"/>
<circle cx="1775.4" cy="540.8" r="14.8"/>
</g>
<text transform="translate(0 559.4) scale(1.14 1)" x="1647.72 1687.72 1708.07 1745.44 1772.98" y="0" font-family="'Liberation Serif', 'Times New Roman', serif" font-weight="bold" font-size="75" fill="#000000" stroke="#ffffff" stroke-width="1.2">alg-1</text>
<g stroke="#0000ff" stroke-width="8.5" fill="none">
<path d="M1685.9 636.1 H1864.9" stroke-dasharray="36 9 18 9"/>
<circle cx="1775.4" cy="636.1" r="14.8"/>
</g>
<text transform="translate(0 654.7) scale(1.14 1)" x="1647.72 1687.72 1708.07 1745.44 1774.04" y="0" font-family="'Liberation Serif', 'Times New Roman', serif" font-weight="bold" font-size="75" fill="#000000" stroke="#ffffff" stroke-width="1.2">alg-2</text>
</svg>
</body></html>
